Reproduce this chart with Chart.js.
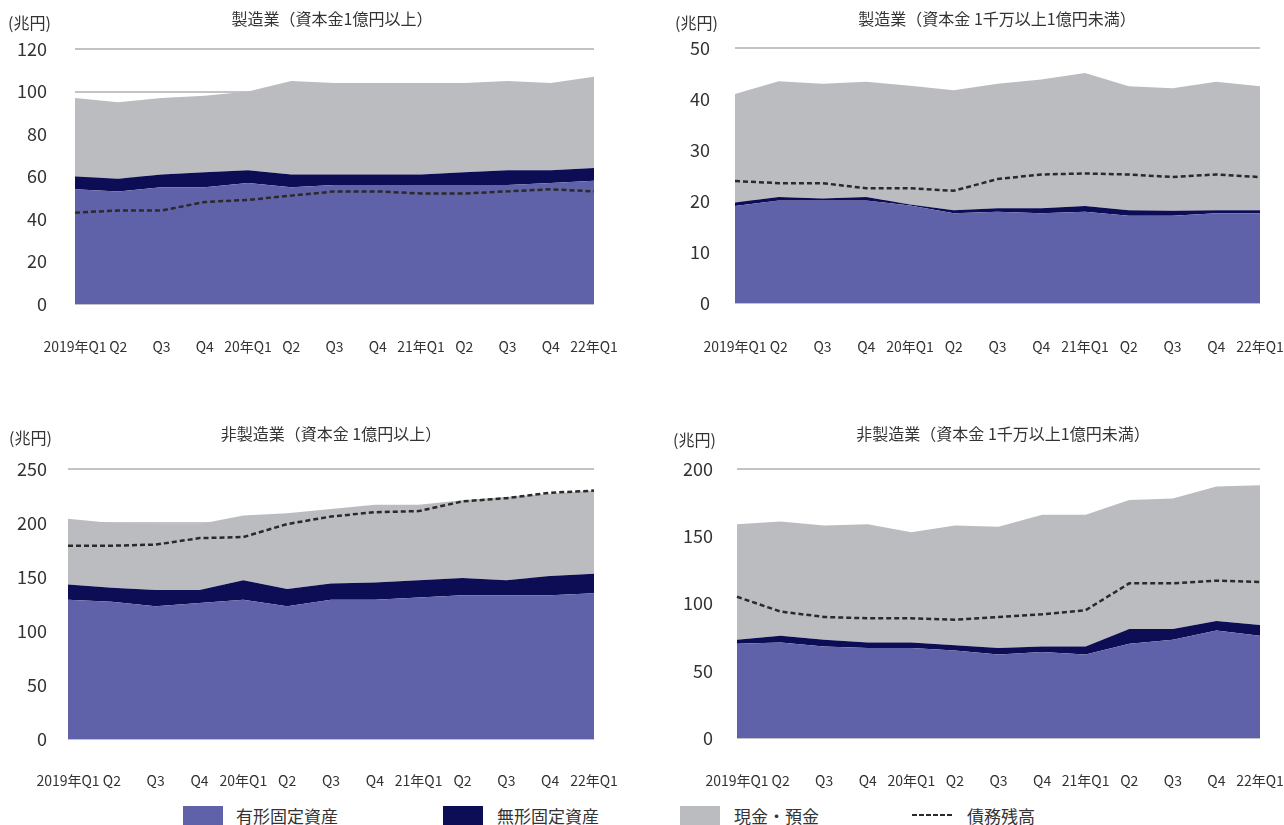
<!DOCTYPE html>
<html>
<head>
<meta charset="utf-8">
<title>資産・債務残高</title>
<script src="https://cdn.jsdelivr.net/npm/chart.js@4.4.0/dist/chart.umd.min.js"></script>
<style>
  body { margin: 0; width: 1284px; height: 825px; overflow: hidden; background: #fff;
         font-family: "Noto Sans CJK JP", sans-serif; color: #333; }
  canvas { position: absolute; }
  .title { position: absolute; transform: translate(-50%, -50%); white-space: nowrap; font-size: 16px; }
  .unit { position: absolute; transform: translateY(-50%); white-space: nowrap; font-size: 16px; }
  .swatch { position: absolute; width: 40px; height: 19px; top: 806px; }
  .legtext { position: absolute; top: 815px; transform: translateY(-50%); font-size: 17px; white-space: nowrap; }
</style>
</head>
<body>

<canvas id="chart-mfg-large" width="640" height="360" style="left:0px;top:0px"></canvas>
<canvas id="chart-mfg-small" width="644" height="360" style="left:640px;top:0px"></canvas>
<canvas id="chart-non-large" width="640" height="400" style="left:0px;top:400px"></canvas>
<canvas id="chart-non-small" width="644" height="400" style="left:640px;top:400px"></canvas>

<div class="title" style="left:332px;top:18px">製造業（資本金1億円以上）</div>
<div class="title" style="left:997px;top:18px">製造業（資本金 1千万以上1億円未満）</div>
<div class="title" style="left:331px;top:433px">非製造業（資本金 1億円以上）</div>
<div class="title" style="left:1003px;top:433px">非製造業（資本金 1千万以上1億円未満）</div>

<div class="unit" style="left:8px;top:22px">(兆円)</div>
<div class="unit" style="left:675px;top:22px">(兆円)</div>
<div class="unit" style="left:9px;top:437px">(兆円)</div>
<div class="unit" style="left:673px;top:439px">(兆円)</div>

<!-- legend -->
<div class="swatch" style="left:183px;background:#6062a9"></div>
<div class="legtext" style="left:236px">有形固定資産</div>
<div class="swatch" style="left:443px;background:#0d0d55"></div>
<div class="legtext" style="left:497px">無形固定資産</div>
<div class="swatch" style="left:680px;background:#bbbcc0"></div>
<div class="legtext" style="left:734px">現金・預金</div>
<svg style="position:absolute;left:912px;top:810px" width="42" height="10">
  <line x1="0" y1="5" x2="42" y2="5" stroke="#2a2a2a" stroke-width="2" stroke-dasharray="5,2"></line>
</svg>
<div class="legtext" style="left:967px">債務残高</div>

<script>
// x axis
const quarters = ["2019年Q1", "Q2", "Q3", "Q4", "20年Q1", "Q2", "Q3", "Q4", "21年Q1", "Q2", "Q3", "Q4", "22年Q1"];

// 製造業（資本金1億円以上）
const mfgLargeTangible   = [54, 53, 55, 55, 57, 55, 56, 56, 56, 56, 56, 57, 58];
const mfgLargeIntangible = [6, 6, 6, 7, 6, 6, 5, 5, 5, 6, 7, 6, 6];
const mfgLargeCash       = [37, 36, 36, 36, 37, 44, 43, 43, 43, 42, 42, 41, 43];
const mfgLargeDebt       = [43, 44, 44, 48, 49, 51, 53, 53, 52, 52, 53, 54, 53];
const mfgLargeTicks      = [0, 20, 40, 60, 80, 100, 120];

// 製造業（資本金 1千万以上1億円未満）
const mfgSmallTangible   = [19.0, 20.1, 20.1, 20.1, 19.1, 17.6, 17.9, 17.6, 17.9, 17.1, 17.1, 17.6, 17.6];
const mfgSmallIntangible = [0.7, 0.7, 0.4, 0.7, 0.2, 0.6, 0.7, 1.0, 1.1, 1.1, 1.0, 0.6, 0.6];
const mfgSmallCash       = [21.3, 22.7, 22.5, 22.6, 23.3, 23.5, 24.4, 25.2, 26.1, 24.3, 24.0, 25.2, 24.3];
const mfgSmallDebt       = [23.9, 23.5, 23.5, 22.5, 22.5, 22.0, 24.3, 25.2, 25.4, 25.2, 24.7, 25.2, 24.7];
const mfgSmallTicks      = [0, 10, 20, 30, 40, 50];

// 非製造業（資本金 1億円以上）
const nonLargeTangible   = [129, 127, 123, 126, 129, 123, 129, 129, 131, 133, 133, 133, 135];
const nonLargeIntangible = [14, 13, 15, 12, 18, 16, 15, 16, 16, 16, 14, 18, 18];
const nonLargeCash       = [61, 60, 61, 61, 60, 70, 69, 72, 70, 72, 77, 76, 77];
const nonLargeDebt       = [179, 179, 180, 186, 187, 199, 206, 210, 211, 220, 223, 228, 230];
const nonLargeTicks      = [0, 50, 100, 150, 200, 250];

// 非製造業（資本金 1千万以上1億円未満）
const nonSmallTangible   = [70, 71, 68, 67, 67, 65, 62, 64, 62, 70, 73, 80, 76];
const nonSmallIntangible = [3, 5, 5, 4, 4, 4, 5, 4, 6, 11, 8, 7, 8];
const nonSmallCash       = [86, 85, 85, 88, 82, 89, 90, 98, 98, 96, 97, 100, 104];
const nonSmallDebt       = [105, 94, 90, 89, 89, 88, 90, 92, 95, 115, 115, 117, 116];
const nonSmallTicks      = [0, 50, 100, 150, 200];

const colTangible = "#6062a9";
const colIntangible = "#0d0d55";
const colCash = "#bbbcc0";
const colDebt = "#2a2a2a";

Chart.defaults.font.family = '"Noto Sans CJK JP", sans-serif';
Chart.defaults.color = "#333";

// area = where the plot box sits inside the canvas
function buildChart(id, tangible, intangible, cash, debt, ticks, area) {
    const canvas = document.getElementById(id);
    const w = canvas.width;
    const h = canvas.height;

    new Chart(canvas, {
        type: "line",
        data: {
            labels: quarters,
            datasets: [
                {
                    label: "債務残高",
                    data: debt,
                    stack: "debt",
                    fill: false,
                    borderColor: colDebt,
                    borderWidth: 2.5,
                    borderDash: [5, 3]
                },
                {
                    label: "有形固定資産",
                    data: tangible,
                    stack: "assets",
                    fill: "origin",
                    backgroundColor: colTangible,
                    borderColor: "rgba(0,0,0,0)",
                    borderWidth: 0
                },
                {
                    label: "無形固定資産",
                    data: intangible,
                    stack: "assets",
                    fill: "-1",
                    backgroundColor: colIntangible,
                    borderColor: "rgba(0,0,0,0)",
                    borderWidth: 0
                },
                {
                    label: "現金・預金",
                    data: cash,
                    stack: "assets",
                    fill: "-1",
                    backgroundColor: colCash,
                    borderColor: "rgba(0,0,0,0)",
                    borderWidth: 0
                }
            ]
        },
        options: {
            responsive: false,
            animation: false,
            layout: {
                padding: { left: 0, top: area.top, right: w - area.right, bottom: 0 }
            },
            plugins: {
                legend: { display: false },
                title: { display: false },
                tooltip: { enabled: false }
            },
            elements: {
                point: { radius: 0 },
                line: { tension: 0 }
            },
            scales: {
                x: {
                    grid: { display: false },
                    border: { display: false },
                    ticks: {
                        autoSkip: false,
                        maxRotation: 0,
                        padding: area.xPad,
                        font: { size: 14 }
                    },
                    afterFit: function(scale) {
                        scale.height = h - area.bottom;
                        scale.paddingLeft = 0;
                        scale.paddingRight = 0;
                    }
                },
                y: {
                    stacked: true,
                    min: ticks[0],
                    max: ticks[ticks.length - 1],
                    grid: { color: "#c2c2c7", lineWidth: 2, drawTicks: false },
                    border: { display: false },
                    ticks: {
                        stepSize: ticks[1] - ticks[0],
                        padding: area.yPad,
                        font: { size: 18 }
                    },
                    afterFit: function(scale) {
                        scale.width = area.left;
                        scale.paddingTop = 0;
                        scale.paddingBottom = 0;
                    }
                }
            }
        }
    });
}

buildChart("chart-mfg-large", mfgLargeTangible, mfgLargeIntangible, mfgLargeCash, mfgLargeDebt, mfgLargeTicks,
    { left: 75, right: 594, top: 49, bottom: 304, yPad: 28, xPad: 26 });
buildChart("chart-mfg-small", mfgSmallTangible, mfgSmallIntangible, mfgSmallCash, mfgSmallDebt, mfgSmallTicks,
    { left: 95, right: 620, top: 48, bottom: 303, yPad: 25, xPad: 27 });
buildChart("chart-non-large", nonLargeTangible, nonLargeIntangible, nonLargeCash, nonLargeDebt, nonLargeTicks,
    { left: 68, right: 594, top: 69, bottom: 339, yPad: 21, xPad: 25 });
buildChart("chart-non-small", nonSmallTangible, nonSmallIntangible, nonSmallCash, nonSmallDebt, nonSmallTicks,
    { left: 97, right: 620, top: 69, bottom: 338, yPad: 24, xPad: 26 });
</script>
</body>
</html>
